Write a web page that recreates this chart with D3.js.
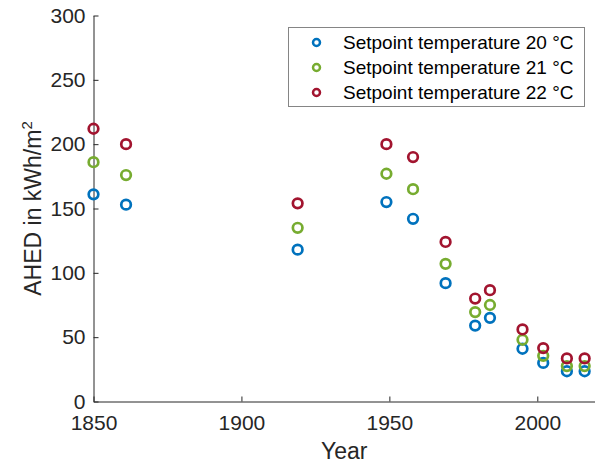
<!DOCTYPE html>
<html>
<head>
<meta charset="utf-8">
<script src="https://cdn.jsdelivr.net/npm/d3@7"></script>
<style>
  html, body { margin: 0; padding: 0; background: #fff; }
  svg { display: block; font-family: Arial, "Liberation Sans", Helvetica, sans-serif; }
</style>
</head>
<body>
<svg id="chart" width="595" height="466"></svg>
<script>
// Construction year of each building class
const years = [1850, 1861, 1919, 1949, 1958, 1969, 1979, 1984, 1995, 2002, 2010, 2016];

// Annual heating energy demand (kWh/m²) per setpoint temperature
const ahed20 = [161, 153, 118, 155, 142, 92, 59, 65, 41, 30, 23.5, 23.5];
const ahed21 = [186, 176, 135, 177, 165, 107, 69.5, 75, 48, 35.5, 27.5, 27.5];
const ahed22 = [212, 200, 154, 200, 190, 124, 80, 86.5, 56, 41.5, 33.5, 33.5];

const seriesNames = ["Setpoint temperature 20 °C", "Setpoint temperature 21 °C", "Setpoint temperature 22 °C"];
const seriesColors = ["#0072BD", "#77AC30", "#A2142F"];

const xTicks = [1850, 1900, 1950, 2000];
const yTicks = [0, 50, 100, 150, 200, 250, 300];

const series = [ahed20, ahed21, ahed22].map((vals, i) => ({
  name: seriesNames[i],
  color: seriesColors[i],
  points: vals.map((v, j) => ({ year: years[j], value: v }))
}));

const svg = d3.select("#chart");
const margin = { left: 93.5, right: 0, top: 15.5, bottom: 64.5 };
const W = 595, H = 466;

const x = d3.scaleLinear().domain([1850, 2019.5]).range([margin.left, W - margin.right]);
const y = d3.scaleLinear().domain([0, 300]).range([H - margin.bottom, margin.top]);

const axisColor = "#262626";

// x axis (ticks point inward)
const gx = svg.append("g")
  .attr("transform", `translate(0,${H - margin.bottom})`)
  .call(d3.axisBottom(x).tickValues(xTicks).tickFormat(d3.format("d")).tickSizeInner(-5).tickSizeOuter(0).tickPadding(14));
gx.select(".domain").attr("stroke", axisColor).attr("stroke-width", 1);
gx.selectAll(".tick line").attr("stroke", axisColor);
gx.selectAll(".tick text").attr("fill", axisColor).attr("font-size", 21).attr("font-family", "Arial, 'Liberation Sans', sans-serif");

// y axis
const gy = svg.append("g")
  .attr("transform", `translate(${margin.left},0)`)
  .call(d3.axisLeft(y).tickValues(yTicks).tickSizeInner(-5).tickSizeOuter(0).tickPadding(8));
gy.select(".domain").attr("stroke", axisColor).attr("stroke-width", 1);
gy.selectAll(".tick line").attr("stroke", axisColor);
gy.selectAll(".tick text").attr("fill", axisColor).attr("font-size", 21).attr("font-family", "Arial, 'Liberation Sans', sans-serif");

// axis titles
svg.append("text")
  .attr("x", (margin.left + W - margin.right) / 2)
  .attr("y", 459)
  .attr("text-anchor", "middle")
  .attr("font-size", 23)
  .attr("fill", axisColor)
  .text("Year");

const yl = svg.append("text")
  .attr("transform", `translate(41,${(margin.top + H - margin.bottom) / 2}) rotate(-90)`)
  .attr("text-anchor", "middle")
  .attr("font-size", 23)
  .attr("fill", axisColor);
yl.append("tspan").text("AHED in kWh/m");
yl.append("tspan").attr("font-size", 15).attr("dy", -9).text("2");

// scatter markers: open circles
series.forEach(s => {
  svg.append("g").selectAll("circle")
    .data(s.points)
    .join("circle")
    .attr("cx", d => x(d.year))
    .attr("cy", d => y(d.value))
    .attr("r", 4.8)
    .attr("fill", "none")
    .attr("stroke", s.color)
    .attr("stroke-width", 2.7);
});

// legend
const legend = svg.append("g");
legend.append("rect")
  .attr("x", 288.5).attr("y", 27.5)
  .attr("width", 296).attr("height", 79)
  .attr("fill", "#fff")
  .attr("stroke", "#858585")
  .attr("stroke-width", 1);
series.forEach((s, i) => {
  const cy = 42.5 + i * 25;
  legend.append("circle")
    .attr("cx", 316.5).attr("cy", cy).attr("r", 3.5)
    .attr("fill", "none").attr("stroke", s.color).attr("stroke-width", 2.5);
  legend.append("text")
    .attr("x", 343).attr("y", cy).attr("dy", "0.35em")
    .attr("font-size", 19).attr("fill", "#000")
    .text(s.name);
});
</script>
</body>
</html>
